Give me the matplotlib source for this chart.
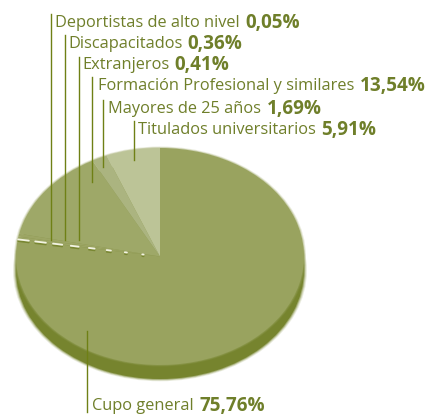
import numpy as np
import matplotlib
matplotlib.use('Agg')
import matplotlib.pyplot as plt

# porcentajes tal como salen en el grafico
nombres = ['Cupo general', 'Deportistas de alto nivel', 'Discapacitados', 'Extranjeros',
           'Formación Profesional y similares', 'Mayores de 25 años', 'Titulados universitarios']
valores = [75.76, 0.05, 0.36, 0.41, 13.54, 1.69, 5.91]
etiquetas_valor = ['75,76%', '0,05%', '0,36%', '0,41%', '13,54%', '1,69%', '5,91%']
colores = ['#99a35f', '#9ca564', '#9ca564', '#9ca564', '#9ea868', '#abb480', '#bcc497']

W, H = 430, 416
cx, cy, rx, ry = 160, 256.5, 144, 108.5
prof = 14  # grosor del borde oscuro
oscuro = '#76842e'
texto = '#6f7f2a'
linea = '#6f8015'

# en pixeles: x del texto, y del texto, x de la linea, y arriba, y abajo
txt_x = [92, 55, 68, 82, 98, 108, 138]
txt_y = [406, 23, 44, 65, 86, 109, 130]
lin_x = [87, 51, 64.5, 78.5, 92, 102.5, 134]
lin_y0 = [331, 14, 35, 57, 77, 100, 121]
lin_y1 = [412, 240, 240, 240, 182, 167, 160]

fig = plt.figure(figsize=(W / 100, H / 100), dpi=100)
ax = fig.add_axes([0, 0, 1, 1])

# sombra del pastel, varias capas para el borde difuso
for extra, a in [(3, 0.15), (2, 0.25), (1, 0.5), (0, 1)]:
    ax.pie([1], colors=[oscuro], radius=1 + extra / rx, center=(0, -prof / ry),
           wedgeprops={'linewidth': 0, 'alpha': a})
for extra, a in [(2, 0.2), (1, 0.4)]:
    ax.pie([1], colors=['#99a35f'], radius=1 + extra / rx, wedgeprops={'linewidth': 0, 'alpha': a})
ax.pie(valores, colors=colores, startangle=90, counterclock=False, wedgeprops={'linewidth': 0})
ax.set_aspect('auto')
ax.set_xlim(-cx / rx, (W - cx) / rx)
ax.set_ylim((cy - H) / ry, cy / ry)
ax.axis('off')

# corte blanco de las porciones pequeñas
ang = np.pi / 2 - 2 * np.pi * valores[0] / sum(valores)
for r, largo in zip(np.linspace(0.96, 0.12, 8), [0.075, 0.075, 0.065, 0.055, 0.04, 0.03, 0.015, 0.01]):
    xs = np.array([r - largo / 2, r + largo / 2]) * np.cos(ang)
    ys = np.array([r - largo / 2, r + largo / 2]) * np.sin(ang)
    ax.plot(xs, ys - 1.8 / ry, color='#76842e', lw=1.2, solid_capstyle='round', alpha=0.9)
    ax.plot(xs, ys, color='#f2f3e2', lw=1.3, solid_capstyle='round')

# capa en pixeles para lineas y textos
ov = fig.add_axes([0, 0, 1, 1], facecolor='none')
ov.set_xlim(0, W)
ov.set_ylim(H, 0)
ov.axis('off')

renderer = fig.canvas.get_renderer()
for i in range(len(nombres)):
    ov.plot([lin_x[i], lin_x[i]], [lin_y0[i], lin_y1[i]], color=linea, lw=1.0)
    t = ov.text(txt_x[i], txt_y[i], nombres[i], family='Open Sans', fontsize=11.8, color=texto,
                va='center', ha='left')
    fin = t.get_window_extent(renderer).x1
    ov.text(fin + 5.5, txt_y[i], etiquetas_valor[i], family='Open Sans', fontweight='bold',
            fontsize=13.6, color=texto, va='center', ha='left')

fig.savefig('out.png', dpi=100)
